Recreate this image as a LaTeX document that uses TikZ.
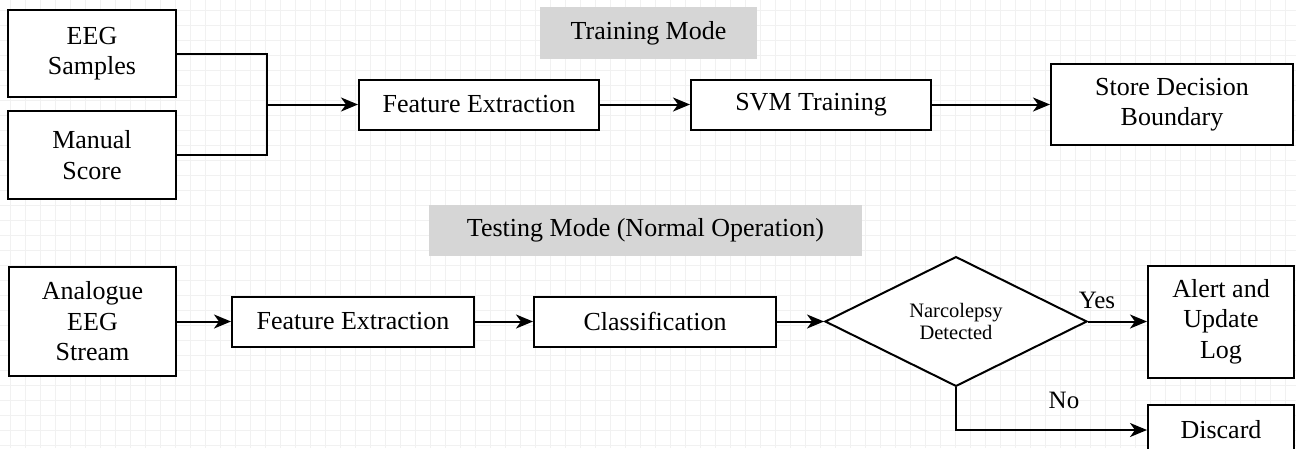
\documentclass[tikz,border=0pt]{standalone}
\usepackage{fontspec}
\setmainfont{Liberation Serif}
\usetikzlibrary{arrows.meta,shapes.geometric}

\definecolor{labelgray}{HTML}{D6D6D6}
\definecolor{gridgray}{HTML}{F1F1F1}

\tikzset{
  box/.style={draw=black, line width=2pt, fill=white, inner sep=0pt,
    align=center, font=\fontsize{26}{30.5}\selectfont},
  decision/.style={diamond, draw=black, line width=2pt, fill=white,
    inner sep=0pt, align=center, font=\fontsize{20.5}{22}\selectfont},
  modetag/.style={fill=labelgray, inner sep=0pt, font=\fontsize{26}{30}\selectfont},
  branchtag/.style={inner sep=0pt, font=\fontsize{25}{28}\selectfont},
  link/.style={line width=2pt},
  flow/.style={line width=2pt, -{Stealth[length=17pt,width=14pt,inset=5pt]}},
  gridline/.style={draw=gridgray, line width=0.9pt}
}

\begin{document}
\begin{tikzpicture}[x=1pt,y=-1pt]
  % canvas and background grid
  \useasboundingbox (0,0) rectangle (1296,448);
  \clip (0,0) rectangle (1296,448);
  \fill[white] (0,0) rectangle (1296,448);
  \foreach \gx in {10,25,...,1295} \draw[gridline] (\gx,0) -- (\gx,448);
  \foreach \gy in {10,25,...,445} \draw[gridline] (0,\gy) -- (1296,\gy);

  % ---- training mode ----
  \node[modetag, minimum width=217pt, minimum height=52pt] (traintag) at (648.5,33) {Training Mode};
  \node[box, minimum width=168pt, minimum height=87pt] (eeg) at (92,53.5) {EEG\\Samples};
  \node[box, minimum width=168pt, minimum height=88pt] (manual) at (92,155) {Manual\\Score};
  \coordinate (merge) at (267,104.5);
  \node[box, minimum width=240pt, minimum height=50pt] (fetrain) at (479,104.5) {Feature Extraction};
  \node[box, minimum width=240pt, minimum height=50pt] (svm) at (811,104.5) {SVM Training};
  \node[box, minimum width=242pt, minimum height=81pt] (store) at (1172,104.5) {Store Decision\\Boundary};

  \draw[link] (eeg.east) -| (merge);
  \draw[link] (manual.east) -| (merge);
  \draw[flow] (merge) -- (fetrain.west);
  \draw[flow] (fetrain) -- (svm);
  \draw[flow] (svm) -- (store);

  % ---- testing mode ----
  \node[modetag, minimum width=433pt, minimum height=51pt] (testtag) at (645.5,230.5) {Testing Mode (Normal Operation)};
  \node[box, minimum width=167pt, minimum height=109pt] (stream) at (92.5,321.5) {Analogue\\EEG\\Stream};
  \node[box, minimum width=242pt, minimum height=50pt] (fetest) at (353,321.5) {Feature Extraction};
  \node[box, minimum width=242pt, minimum height=50pt] (classify) at (655,321.5) {Classification};
  \node[decision, minimum width=262pt, minimum height=112pt] (decide) at (956,321.5) {Narcolepsy\\Detected};
  \node[box, minimum width=146pt, minimum height=112pt] (alert) at (1221,321.5) {Alert and\\Update\\Log};
  \node[box, minimum width=146pt, minimum height=50pt] (discard) at (1221,430) {Discard};

  \draw[flow] (stream) -- (fetest);
  \draw[flow] (fetest) -- (classify);
  \draw[flow] (classify) -- (decide.west);
  \draw[flow] (decide.east) -- (alert.west);
  \draw[flow] (decide.south) |- (discard.west);

  \node[branchtag] (yes) at (1097,300) {Yes};
  \node[branchtag] (no) at (1064,400) {No};
\end{tikzpicture}
\end{document}
